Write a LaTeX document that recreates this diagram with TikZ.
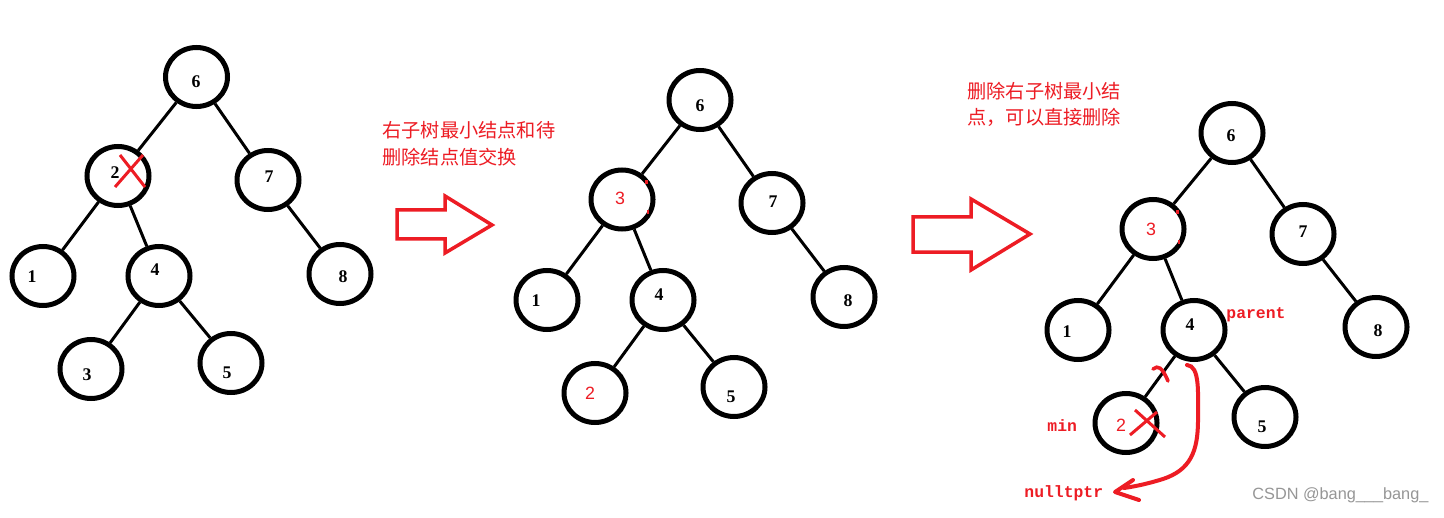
\documentclass[tikz,border=0pt]{standalone}
\usepackage{fontspec}
\setmainfont{Liberation Serif}
\newfontfamily\cjk{Noto Sans CJK SC}
\newfontfamily\monof{Liberation Mono}
\newfontfamily\sansf{Liberation Sans}
\usetikzlibrary{shapes.geometric}
\definecolor{pred}{RGB}{237,28,36}
\definecolor{wm}{RGB}{150,150,150}
\begin{document}
\begin{tikzpicture}[x=0.5pt,y=-0.5pt,
  vertex/.style={ellipse,draw,line width=2.5pt,minimum width=31pt,minimum height=29.5pt,inner sep=0pt},
  edge/.style={line width=1.5pt},
  num/.style={font=\bfseries\fontsize{8.9}{10}\selectfont,inner sep=0pt},
  rnum/.style={font=\sansf\fontsize{8.9}{10}\selectfont,text=pred,inner sep=0pt},
  note/.style={font=\cjk\fontsize{9.6}{11}\selectfont,text=pred,anchor=west,inner sep=0pt},
  code/.style={font=\monof\bfseries\fontsize{8.2}{10}\selectfont,text=pred,anchor=base west,inner sep=0pt},
  redline/.style={draw=pred,line width=1.5pt},
  bigarrow/.style={draw=pred,line width=1.75pt,line join=miter},
  speck/.style={fill=pred}
]
\fill[white] (0,0) rectangle (1444,518);
\useasboundingbox (0,0) rectangle (1444,518);

% ---------- tree 1 ----------
\node[vertex] (a6) at (196.5,77) {};
\node[vertex] (a2) at (118,176) {};
\node[vertex] (a7) at (268,180) {};
\node[vertex] (a1) at (43,276) {};
\node[vertex] (a4) at (159,276) {};
\node[vertex] (a8) at (340,274) {};
\node[vertex] (a3) at (91,369) {};
\node[vertex] (a5) at (231,363) {};
\node[num] (la6) at (196,82) {6};
\node[num] (la2) at (115,173) {2};
\node[num] (la7) at (269,177) {7};
\node[num] (la1) at (32,277) {1};
\node[num] (la4) at (155,270) {4};
\node[num] (la8) at (343,277) {8};
\node[num] (la3) at (87,375) {3};
\node[num] (la5) at (227,373) {5};
\draw[edge] (a6) -- (a2);
\draw[edge] (a6) -- (a7);
\draw[edge] (a2) -- (a1);
\draw[edge] (a2) -- (a4);
\draw[edge] (a7) -- (a8);
\draw[edge] (a4) -- (a3);
\draw[edge] (a4) -- (a5);
\draw[redline] (120,155) -- (145,187);
\draw[redline] (143,155) -- (115,187);

% ---------- arrow 1 and note ----------
\draw[bigarrow] (397,210) -- (445,210) -- (445,196) -- (492,225) -- (445,253) -- (445,239) -- (397,239) -- cycle;
\node[note] (n1a) at (382,130) {右子树最小结点和待};
\node[note] (n1b) at (382,157) {删除结点值交换};

% ---------- tree 2 ----------
\node[vertex] (b6) at (700,100) {};
\node[vertex] (b3) at (622,199.5) {};
\node[vertex] (b7) at (772,203) {};
\node[vertex] (b1) at (547,300) {};
\node[vertex] (b4) at (663,300) {};
\node[vertex] (b8) at (844,297) {};
\node[vertex] (b2) at (595,393) {};
\node[vertex] (b5) at (734,387) {};
\node[num] (lb6) at (700,106) {6};
\node[rnum] (lb3) at (620,198) {3};
\node[num] (lb7) at (773,202) {7};
\node[num] (lb1) at (536,301) {1};
\node[num] (lb4) at (659,295) {4};
\node[num] (lb8) at (848,301) {8};
\node[rnum] (lb2) at (590,393) {2};
\node[num] (lb5) at (731,397) {5};
\draw[edge] (b6) -- (b3);
\draw[edge] (b6) -- (b7);
\draw[edge] (b3) -- (b1);
\draw[edge] (b3) -- (b4);
\draw[edge] (b7) -- (b8);
\draw[edge] (b4) -- (b2);
\draw[edge] (b4) -- (b5);
\fill[speck] (645,180) rectangle (648,184);
\fill[speck] (647,210) rectangle (649,214);

% ---------- arrow 2 and note ----------
\draw[bigarrow] (913,217) -- (971,217) -- (971,199) -- (1030,234) -- (971,270) -- (971,252) -- (913,252) -- cycle;
\node[note] (n2a) at (967,91) {删除右子树最小结};
\node[note] (n2b) at (967,117) {点，可以直接删除};

% ---------- tree 3 ----------
\node[vertex] (c6) at (1232,133) {};
\node[vertex] (c3) at (1153,229) {};
\node[vertex] (c7) at (1303,234) {};
\node[vertex] (c1) at (1078,330) {};
\node[vertex] (c4) at (1194,330) {};
\node[vertex] (c8) at (1376,327) {};
\node[vertex] (c2) at (1126,423) {};
\node[vertex] (c5) at (1265,417) {};
\node[num] (lc6) at (1231,136) {6};
\node[rnum] (lc3) at (1151,229) {3};
\node[num] (lc7) at (1303,232) {7};
\node[num] (lc1) at (1067,332) {1};
\node[num] (lc4) at (1190,325) {4};
\node[num] (lc8) at (1378,331) {8};
\node[rnum] (lc2) at (1121,425) {2};
\node[num] (lc5) at (1262,427) {5};
\draw[edge] (c6) -- (c3);
\draw[edge] (c6) -- (c7);
\draw[edge] (c3) -- (c1);
\draw[edge] (c3) -- (c4);
\draw[edge] (c7) -- (c8);
\draw[edge] (c4) -- (c2);
\draw[edge] (c4) -- (c5);
\fill[speck] (1176,210) rectangle (1179,214);
\fill[speck] (1178,240) rectangle (1180,244);
\draw[redline] (1135,410) -- (1165,437);
\draw[redline] (1157,412) -- (1130,435);
\draw[redline,line width=1.8pt,line cap=round] (1153,369) .. controls (1158,365) and (1162,367) .. (1168,381);

\node[code] (parent) at (1226,318) {parent};
\node[code] (minl) at (1047,431) {min};
\node[code] (nullt) at (1024,497) {nulltptr};

\coordinate (cs) at (1187,365);
\coordinate (ce) at (1124,488);
\coordinate (tip) at (1115,492);
\draw[pred,line width=2pt,line cap=round] (cs) .. controls (1200,366) and (1198,392) .. (1198,420) .. controls (1198,452) and (1190,470) .. (1163,479) .. controls (1150,483) and (1138,486) .. (ce);
\draw[pred,line width=2pt,line cap=round,line join=round] (1133,480) -- (tip) -- (1139,500);

\node[font=\sansf\fontsize{8.15}{10}\selectfont,text=wm,anchor=west,inner sep=0pt] (wmk) at (1252,495) {CSDN @bang\_\_\_bang\_};
\end{tikzpicture}
\end{document}
